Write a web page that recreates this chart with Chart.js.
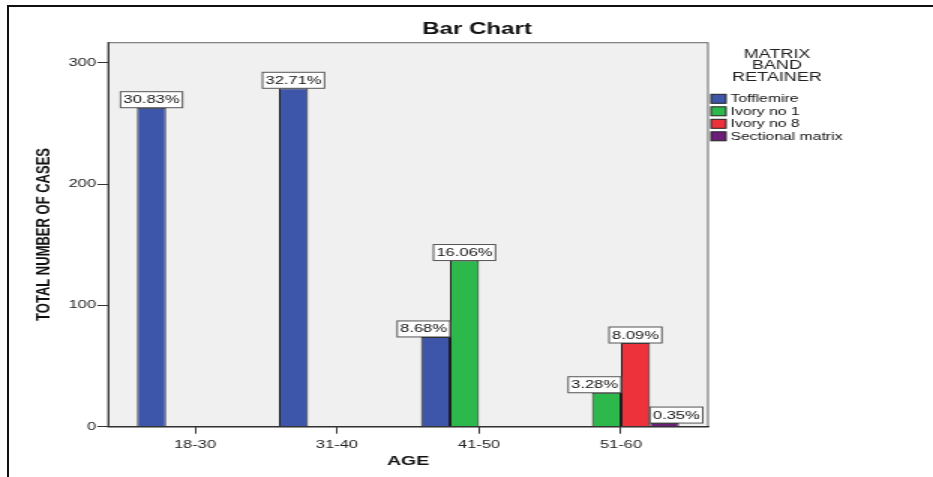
<!DOCTYPE html>
<html>
<head>
<meta charset="utf-8">
<script src="https://cdn.jsdelivr.net/npm/chart.js@4"></script>
<style>
  body { margin: 0; background: #fff; overflow: hidden; }
  #frame { position: absolute; left: 7px; top: 5px; width: 940px; height: 480px;
           border-left: 2px solid #111; border-top: 2px solid #111; }
  /* the original picture is stretched sideways, so draw narrow and stretch */
  #wrap { position: absolute; left: 0; top: 0; width: 622px; height: 477px;
          transform: scaleX(1.5); transform-origin: 0 0; }
</style>
</head>
<body>
<div id="frame"></div>
<div id="wrap"><canvas id="barChart" width="622" height="477"></canvas></div>
<script>
const ageGroups = ['18-30', '31-40', '41-50', '51-60'];
const retainers = ['Tofflemire', 'Ivory no 1', 'Ivory no 8', 'Sectional matrix'];
const tofflemire = [263, 279, 74, 0];
const ivoryNo1 = [0, 0, 137, 28];
const ivoryNo8 = [0, 0, 0, 69];
const sectional = [0, 0, 0, 3];
const yTicks = [0, 100, 200, 300];

const series = [tofflemire, ivoryNo1, ivoryNo8, sectional];
const colors = ['#3D56A9', '#2DB84B', '#EE323C', '#6C1F78'];
const total = series.flat().reduce((a, b) => a + b, 0);
const FONT = '"Liberation Sans", Arial, sans-serif';

const datasets = series.map((vals, i) => ({
    label: retainers[i],
    data: vals.map((v, j) => ({ x: j, y: v > 0 ? v : null })),
    backgroundColor: colors[i],
    borderColor: '#1c1c1c',
    borderWidth: 1,
    categoryPercentage: 0.817,
    barPercentage: 1
}));

const extras = {
    id: 'extras',
    beforeDraw(chart) {
        const { ctx, chartArea: a } = chart;
        ctx.save();
        ctx.fillStyle = '#F0F0F0';
        ctx.fillRect(a.left, a.top, a.right - a.left, a.bottom - a.top);
        ctx.strokeStyle = '#666';
        ctx.lineWidth = 1;
        ctx.strokeRect(a.left, a.top + 0.5, a.right - a.left, a.bottom - a.top);
        ctx.restore();
    },
    afterDatasetsDraw(chart) {
        const ctx = chart.ctx;
        ctx.save();
        ctx.font = '11px ' + FONT;
        ctx.textBaseline = 'middle';
        ctx.textAlign = 'center';
        series.forEach((vals, i) => {
            const meta = chart.getDatasetMeta(i);
            vals.forEach((v, j) => {
                if (!(v > 0)) return;
                const bar = meta.data[j];
                const txt = (v / total * 100).toFixed(2) + '%';
                const w = ctx.measureText(txt).width + 4;
                const h = 16;
                const bottom = bar.y;
                let left = bar.x - w / 2;
                // keep the box off a taller neighbour, like SPSS does
                const prev = i > 0 ? series[i - 1][j] : 0;
                const next = i < series.length - 1 ? series[i + 1][j] : 0;
                if (prev > 0) {
                    const pb = chart.getDatasetMeta(i - 1).data[j];
                    if (pb.y < bottom && left < pb.x + pb.width / 2) left = bar.x - bar.width / 2;
                }
                if (next > 0) {
                    const nb = chart.getDatasetMeta(i + 1).data[j];
                    if (nb.y < bottom && left + w > nb.x - nb.width / 2) left = bar.x + bar.width / 2 - w;
                }
                ctx.fillStyle = '#fff';
                ctx.fillRect(left, bottom - h, w, h);
                ctx.strokeStyle = '#555';
                ctx.lineWidth = 1;
                ctx.strokeRect(left, bottom - h, w, h);
                ctx.fillStyle = '#111';
                ctx.fillText(txt, left + w / 2, bottom - h / 2 + 0.5);
            });
        });
        ctx.restore();
    },
    afterDraw(chart) {
        const ctx = chart.ctx;
        ctx.save();
        ctx.fillStyle = '#111';
        ctx.textAlign = 'center';
        ctx.textBaseline = 'middle';
        ctx.font = 'bold 16px ' + FONT;
        ctx.fillText('Bar Chart', 318, 29.5);

        ctx.font = '12px ' + FONT;
        ctx.fillStyle = '#222';
        ['MATRIX', 'BAND', 'RETAINER'].forEach((t, k) => ctx.fillText(t, 518, 54.5 + k * 11.5));

        ctx.textAlign = 'left';
        ctx.font = '10.5px ' + FONT;
        retainers.forEach((name, k) => {
            const y = 98.8 + k * 12.5;
            ctx.fillStyle = colors[k];
            ctx.fillRect(474, y - 4.5, 10, 9);
            ctx.strokeStyle = '#222';
            ctx.lineWidth = 1;
            ctx.strokeRect(474, y - 4.5, 10, 9);
            ctx.fillStyle = '#111';
            ctx.fillText(name, 487, y + 0.5);
        });
        ctx.restore();
    }
};

new Chart(document.getElementById('barChart'), {
    type: 'bar',
    data: { datasets: datasets },
    plugins: [extras],
    options: {
        responsive: false,
        animation: false,
        devicePixelRatio: 1,
        layout: { padding: { left: 0, right: 150, top: 42.2, bottom: 0 } },
        plugins: {
            legend: { display: false },
            title: { display: false },
            tooltip: { enabled: false }
        },
        scales: {
            x: {
                type: 'linear',
                offset: false,
                min: -0.613,
                max: 3.613,
                afterFit: (s) => { s.height = 50.3; },
                afterBuildTicks: (s) => { s.ticks = ageGroups.map((_, i) => ({ value: i })); },
                ticks: {
                    callback: (v) => ageGroups[Math.round(v)],
                    font: { family: FONT, size: 11 },
                    color: '#222',
                    padding: 5,
                    maxRotation: 0,
                    autoSkip: false
                },
                grid: { offset: false, drawOnChartArea: false, tickLength: 7, color: '#333' },
                border: { color: '#333' },
                title: {
                    display: true,
                    text: 'AGE',
                    font: { family: FONT, size: 13, weight: 'bold' },
                    color: '#111',
                    padding: { top: 0, bottom: 7.7 }
                }
            },
            y: {
                min: 0,
                max: 317,
                afterFit: (s) => { s.width = 72; },
                afterBuildTicks: (s) => { s.ticks = yTicks.map(v => ({ value: v })); },
                ticks: {
                    font: { family: FONT, size: 11 },
                    color: '#222',
                    padding: 1
                },
                grid: { drawOnChartArea: false, tickLength: 7, color: '#333' },
                border: { color: '#333' },
                title: {
                    display: true,
                    text: 'TOTAL NUMBER OF CASES',
                    font: { family: FONT, size: 13, weight: 'bold' },
                    color: '#111',
                    padding: { top: 21.9, bottom: 0 }
                }
            }
        }
    }
});
</script>
</body>
</html>
